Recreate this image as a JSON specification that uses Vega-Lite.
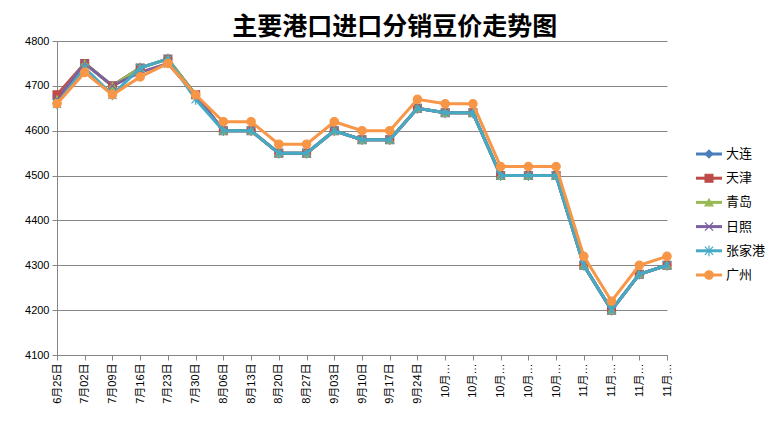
{
  "$schema": "https://vega.github.io/schema/vega-lite/v6.json",
  "padding": {"left": 24, "top": 15, "right": 5, "bottom": 5},
  "background": "white",
  "title": {
    "text": "主要港口进口分销豆价走势图",
    "font": "Noto Sans CJK SC",
    "fontSize": 25,
    "fontWeight": "bold",
    "color": "black",
    "anchor": "middle",
    "frame": "bounds",
    "offset": -5
  },
  "data": {
    "values": [
      {"d": "6月25日", "大连": 4670, "天津": 4680, "青岛": 4670, "日照": 4670, "张家港": 4660, "广州": 4660},
      {"d": "7月02日", "大连": 4750, "天津": 4750, "青岛": 4750, "日照": 4750, "张家港": 4740, "广州": 4730},
      {"d": "7月09日", "大连": 4700, "天津": 4700, "青岛": 4700, "日照": 4700, "张家港": 4680, "广州": 4680},
      {"d": "7月16日", "大连": 4740, "天津": 4740, "青岛": 4740, "日照": 4730, "张家港": 4740, "广州": 4720},
      {"d": "7月23日", "大连": 4760, "天津": 4760, "青岛": 4760, "日照": 4750, "张家港": 4760, "广州": 4750},
      {"d": "7月30日", "大连": 4680, "天津": 4680, "青岛": 4680, "日照": 4680, "张家港": 4670, "广州": 4680},
      {"d": "8月06日", "大连": 4600, "天津": 4600, "青岛": 4600, "日照": 4600, "张家港": 4600, "广州": 4620},
      {"d": "8月13日", "大连": 4600, "天津": 4600, "青岛": 4600, "日照": 4600, "张家港": 4600, "广州": 4620},
      {"d": "8月20日", "大连": 4550, "天津": 4550, "青岛": 4550, "日照": 4550, "张家港": 4550, "广州": 4570},
      {"d": "8月27日", "大连": 4550, "天津": 4550, "青岛": 4550, "日照": 4550, "张家港": 4550, "广州": 4570},
      {"d": "9月03日", "大连": 4600, "天津": 4600, "青岛": 4600, "日照": 4600, "张家港": 4600, "广州": 4620},
      {"d": "9月10日", "大连": 4580, "天津": 4580, "青岛": 4580, "日照": 4580, "张家港": 4580, "广州": 4600},
      {"d": "9月17日", "大连": 4580, "天津": 4580, "青岛": 4580, "日照": 4580, "张家港": 4580, "广州": 4600},
      {"d": "9月24日", "大连": 4650, "天津": 4650, "青岛": 4650, "日照": 4650, "张家港": 4650, "广州": 4670},
      {"d": "10月01日", "大连": 4640, "天津": 4640, "青岛": 4640, "日照": 4640, "张家港": 4640, "广州": 4660},
      {"d": "10月08日", "大连": 4640, "天津": 4640, "青岛": 4640, "日照": 4640, "张家港": 4640, "广州": 4660},
      {"d": "10月15日", "大连": 4500, "天津": 4500, "青岛": 4500, "日照": 4500, "张家港": 4500, "广州": 4520},
      {"d": "10月22日", "大连": 4500, "天津": 4500, "青岛": 4500, "日照": 4500, "张家港": 4500, "广州": 4520},
      {"d": "10月29日", "大连": 4500, "天津": 4500, "青岛": 4500, "日照": 4500, "张家港": 4500, "广州": 4520},
      {"d": "11月05日", "大连": 4300, "天津": 4300, "青岛": 4300, "日照": 4300, "张家港": 4300, "广州": 4320},
      {"d": "11月12日", "大连": 4200, "天津": 4200, "青岛": 4200, "日照": 4200, "张家港": 4200, "广州": 4220},
      {"d": "11月19日", "大连": 4280, "天津": 4280, "青岛": 4280, "日照": 4280, "张家港": 4280, "广州": 4300},
      {"d": "11月26日", "大连": 4300, "天津": 4300, "青岛": 4300, "日照": 4300, "张家港": 4300, "广州": 4320}
    ]
  },
  "transform": [
    {"fold": ["大连", "天津", "青岛", "日照", "张家港", "广州"], "as": ["port", "price"]}
  ],
  "spacing": 20,
  "hconcat": [
    {
      "width": 610,
      "height": 314,
      "encoding": {
        "x": {
          "field": "d",
          "type": "ordinal",
          "sort": null,
          "scale": {"type": "point", "padding": 0},
          "axis": {
            "title": null,
            "labelAngle": -90,
            "labelAlign": "right",
            "labelBaseline": "middle",
            "labelPadding": 3,
            "labelExpr": "length(datum.label) > 5 ? slice(datum.label, 0, 3) + '…' : datum.label",
            "grid": false,
            "ticks": true,
            "tickSize": 5
          }
        },
        "y": {
          "field": "price",
          "type": "quantitative",
          "scale": {"domain": [4100, 4800], "nice": false, "zero": false},
          "axis": {
            "title": null,
            "format": "d",
            "values": [4100, 4200, 4300, 4400, 4500, 4600, 4700, 4800],
            "grid": true,
            "tickSize": 5,
            "labelPadding": 3
          }
        },
        "color": {
          "field": "port",
          "type": "nominal",
          "legend": null,
          "scale": {
            "domain": ["大连", "天津", "青岛", "日照", "张家港", "广州"],
            "range": ["#4A7EBB", "#BE4B48", "#98B954", "#7D60A0", "#46AAC5", "#F79646"]
          }
        }
      },
      "layer": [
        {
          "transform": [{"filter": {"field": "port", "oneOf": ["大连", "天津", "青岛", "日照"]}}],
          "mark": {"type": "line", "strokeWidth": 3}
        },
        {
          "transform": [{"filter": {"field": "port", "oneOf": ["大连", "天津", "青岛", "日照"]}}],
          "mark": {"type": "point", "filled": true, "opacity": 1, "strokeWidth": 1.2},
          "encoding": {
            "shape": {"field": "port", "type": "nominal", "legend": null, "scale": {"domain": ["大连", "天津", "青岛", "日照", "张家港", "广州"], "range": ["diamond", "square", "triangle-up", "M-1,-1L1,1M-1,1L1,-1", "M-1,-1L1,1M-1,1L1,-1M0,-1.3L0,1.3", "circle"]}},
            "size": {"field": "port", "type": "nominal", "legend": null, "scale": {"domain": ["大连", "天津", "青岛", "日照", "张家港", "广州"], "range": [60, 70, 60, 40, 40, 110]}},
            "stroke": {"field": "port", "type": "nominal", "legend": null, "scale": {"domain": ["大连", "天津", "青岛", "日照", "张家港", "广州"], "range": ["#4A7EBB", "#BE4B48", "#98B954", "#7D60A0", "#46AAC5", "#F79646"]}}
          }
        },
        {
          "transform": [{"filter": {"field": "port", "equal": "张家港"}}],
          "mark": {"type": "line", "strokeWidth": 3}
        },
        {
          "transform": [{"filter": {"field": "port", "equal": "张家港"}}],
          "mark": {"type": "point", "filled": true, "opacity": 1, "strokeWidth": 1.2},
          "encoding": {
            "shape": {"field": "port", "type": "nominal", "legend": null},
            "size": {"field": "port", "type": "nominal", "legend": null},
            "stroke": {"field": "port", "type": "nominal", "legend": null}
          }
        },
        {
          "transform": [{"filter": {"field": "port", "equal": "广州"}}],
          "mark": {"type": "line", "strokeWidth": 3}
        },
        {
          "transform": [{"filter": {"field": "port", "equal": "广州"}}],
          "mark": {"type": "point", "filled": true, "opacity": 1, "strokeWidth": 1.2},
          "encoding": {
            "shape": {"field": "port", "type": "nominal", "legend": null},
            "size": {"field": "port", "type": "nominal", "legend": null},
            "stroke": {"field": "port", "type": "nominal", "legend": null}
          }
        }
      ]
    },
    {
      "width": 26,
      "height": 314,
      "transform": [{"filter": {"field": "d", "equal": "6月25日"}}],
      "encoding": {
        "y": {
          "field": "port",
          "type": "nominal",
          "sort": ["大连", "天津", "青岛", "日照", "张家港", "广州"],
          "scale": {"type": "point", "padding": 0, "range": [113, 234]},
          "axis": null
        },
        "color": {
          "field": "port",
          "type": "nominal",
          "legend": null,
          "scale": {
            "domain": ["大连", "天津", "青岛", "日照", "张家港", "广州"],
            "range": ["#4A7EBB", "#BE4B48", "#98B954", "#7D60A0", "#46AAC5", "#F79646"]
          }
        }
      },
      "layer": [
        {
          "mark": {"type": "rule", "strokeWidth": 3},
          "encoding": {
            "x": {"datum": 0, "type": "quantitative", "scale": {"domain": [0, 1]}, "axis": null},
            "x2": {"datum": 1}
          }
        },
        {
          "mark": {"type": "point", "filled": true, "opacity": 1, "strokeWidth": 1.2},
          "encoding": {
            "x": {"datum": 0.5, "type": "quantitative", "scale": {"domain": [0, 1]}, "axis": null},
            "shape": {"field": "port", "type": "nominal", "legend": null, "scale": {"domain": ["大连", "天津", "青岛", "日照", "张家港", "广州"], "range": ["diamond", "square", "triangle-up", "M-1,-1L1,1M-1,1L1,-1", "M-1,-1L1,1M-1,1L1,-1M0,-1.3L0,1.3", "circle"]}},
            "size": {"field": "port", "type": "nominal", "legend": null, "scale": {"domain": ["大连", "天津", "青岛", "日照", "张家港", "广州"], "range": [60, 70, 60, 40, 40, 110]}},
            "stroke": {"field": "port", "type": "nominal", "legend": null, "scale": {"domain": ["大连", "天津", "青岛", "日照", "张家港", "广州"], "range": ["#4A7EBB", "#BE4B48", "#98B954", "#7D60A0", "#46AAC5", "#F79646"]}}
          }
        },
        {
          "mark": {"type": "text", "align": "left", "baseline": "middle", "dx": 4, "fontSize": 13, "font": "Noto Sans CJK SC", "color": "black"},
          "encoding": {
            "x": {"datum": 1, "type": "quantitative", "scale": {"domain": [0, 1]}, "axis": null},
            "text": {"field": "port", "type": "nominal"},
            "color": {"value": "black"}
          }
        }
      ]
    }
  ],
  "config": {
    "font": "Liberation Sans",
    "view": {"stroke": null},
    "axis": {
      "labelFont": "Liberation Sans, Noto Sans CJK SC",
      "labelFontSize": 11,
      "labelColor": "black",
      "domainColor": "#868686",
      "tickColor": "#868686",
      "gridColor": "#868686",
      "gridOpacity": 1,
      "domainWidth": 1,
      "tickWidth": 1
    }
  }
}
